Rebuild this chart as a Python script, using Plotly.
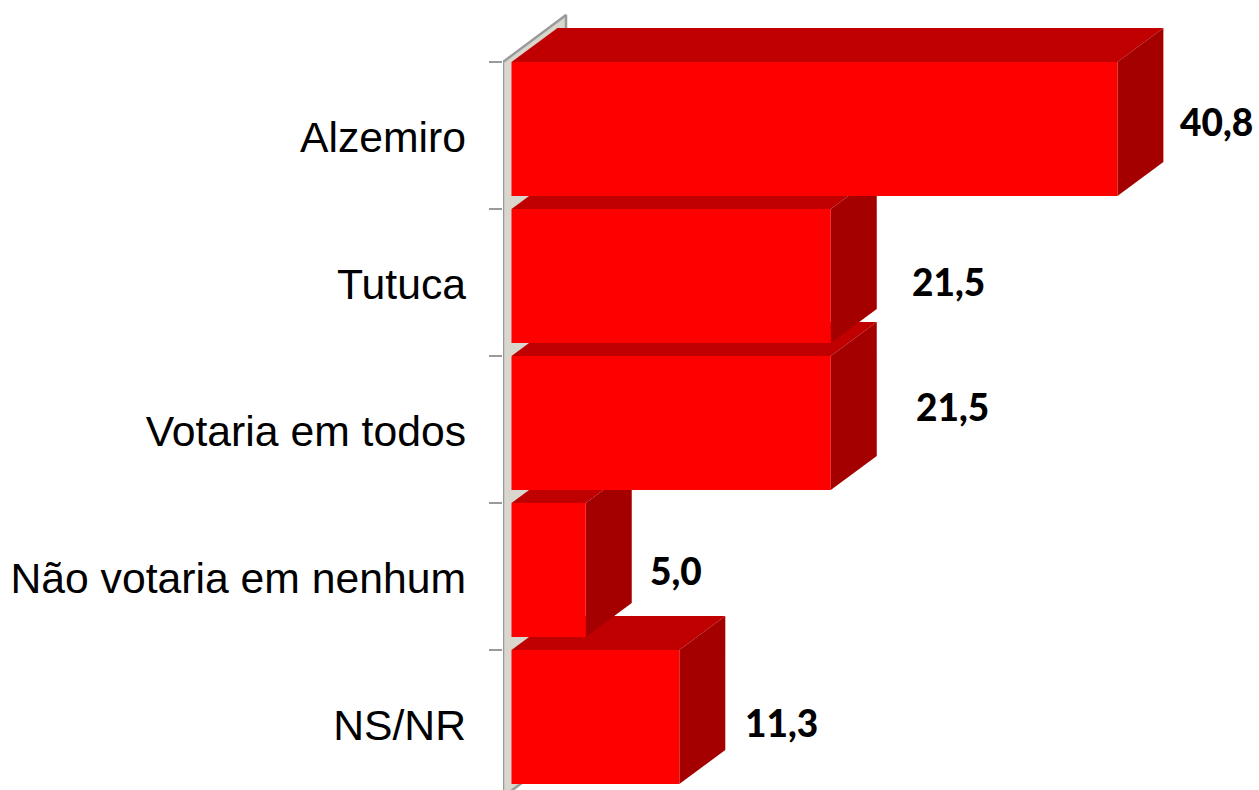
import plotly.graph_objects as go

categories = ["Alzemiro", "Tutuca", "Votaria em todos", "Não votaria em nenhum", "NS/NR"]
values = [40.8, 21.5, 21.5, 5.0, 11.3]
value_labels = ["40,8", "21,5", "21,5", "5,0", "11,3"]

# pixel offsets of the hand-placed value labels, relative to each bar's end and centre
label_dx = [99, 118, 122, 90, 102]
label_dy = [-8, 5, -17, 0, 5]

W, H = 1259, 790
PX_X = 14.85           # pixels per value unit
PX_Y = 147.0           # pixels per category
ZERO_PX = 511.5
FIRST_PX = 129.0
LEFT = 503

BAR_W = 134 / PX_Y
DX = 46 / PX_X         # 3D depth, value units
DY = 34 / PX_Y         # 3D depth, category units
WALL = (ZERO_PX - LEFT) / PX_X
FRONT, TOP, SIDE = "#ff0000", "#c00000", "#a40000"
WALL_FILL, WALL_LINE = "#d9d6ce", "#9a9a9a"

x_range = [-WALL, (W - ZERO_PX) / PX_X]
y_range = [(H - FIRST_PX) / PX_Y, -FIRST_PX / PX_Y]
n = len(categories)

fig = go.Figure()


def poly(xs, ys, color, z, line=None, width=0):
    fig.add_trace(go.Scatter(
        x=xs + xs[:1], y=ys + ys[:1], mode="lines", fill="toself", fillcolor=color,
        line=dict(color=line or color, width=width), hoverinfo="skip",
        showlegend=False, zorder=z))


# side wall of the 3D chart
wall_top = -BAR_W / 2
wall_bot = n - 1 + BAR_W / 2 + 13 / PX_Y
poly([-WALL, DX + WALL, DX + WALL, -WALL],
     [wall_top, wall_top - DY - 13 / PX_Y, wall_bot - DY - 13 / PX_Y, wall_bot],
     WALL_FILL, 0, WALL_LINE, 2.5)

# bars, painted from the last (back) to the first (front)
for i in range(n - 1, -1, -1):
    v = values[i]
    t, b = i - BAR_W / 2, i + BAR_W / 2
    z = 2 * (n - i)
    poly([0, v, v + DX, DX], [t, t, t - DY, t - DY], TOP, z)
    poly([v, v + DX, v + DX, v], [t, t - DY, b - DY, b], SIDE, z)
    fig.add_trace(go.Bar(
        x=[v], y=[i], orientation="h", width=BAR_W, marker=dict(color=FRONT, line_width=0),
        hoverinfo="skip", showlegend=False, zorder=z + 1))

# invisible trace that carries the category-label axis
fig.add_trace(go.Scatter(
    x=[0] * n, y=[i + 8 / PX_Y for i in range(n)], yaxis="y2", mode="markers",
    marker=dict(opacity=0), hoverinfo="skip", showlegend=False))

annotations = [
    dict(x=values[i], y=i, xref="x", yref="y", text=value_labels[i], showarrow=False,
         xanchor="center", yanchor="middle", xshift=label_dx[i], yshift=-label_dy[i],
         font=dict(family="Lato", size=37, color="#000000", weight=900))
    for i in range(n)
]

fig.update_layout(
    width=W, height=H, margin=dict(l=LEFT, r=0, t=0, b=0, autoexpand=False),
    paper_bgcolor="white", plot_bgcolor="white", barmode="overlay", showlegend=False,
    xaxis=dict(range=x_range, visible=False, fixedrange=True),
    yaxis=dict(range=y_range, tickmode="array", tickvals=[i - BAR_W / 2 for i in range(n)],
               showticklabels=False, ticks="outside", ticklen=13, tickwidth=2, tickcolor=WALL_LINE,
               showgrid=False, zeroline=False, showline=False, fixedrange=True),
    yaxis2=dict(range=y_range, overlaying="y", side="left", tickmode="array",
                tickvals=[i + 8 / PX_Y for i in range(n)], ticktext=categories,
                ticks="", ticklabelstandoff=36, showgrid=False, zeroline=False, showline=False,
                tickfont=dict(family="Liberation Sans", size=42.7, color="#000000"), fixedrange=True),
    annotations=annotations,
)

fig.write_html("out.html", config={"displayModeBar": False},
               post_script="document.body.style.margin='0';document.documentElement.style.overflow='hidden';")
